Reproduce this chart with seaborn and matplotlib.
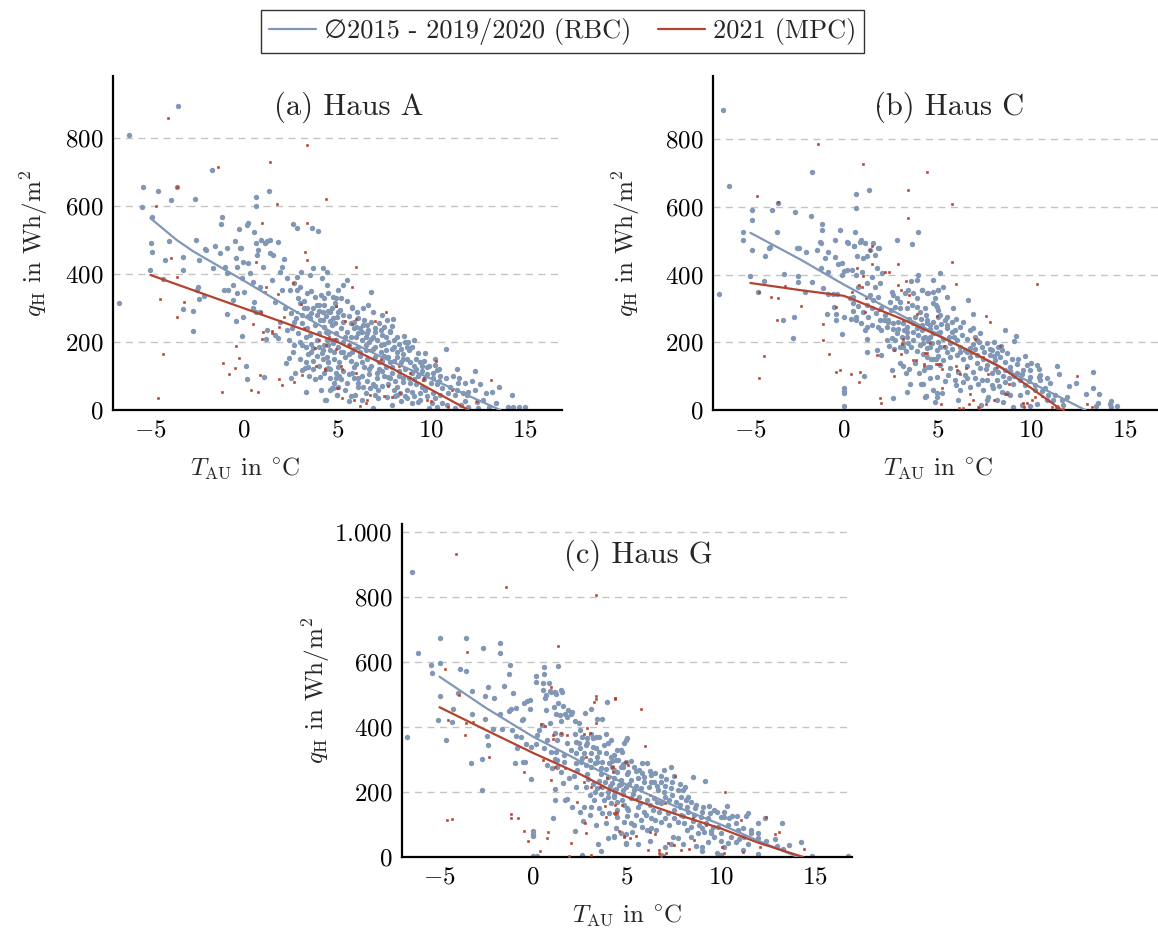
import matplotlib
matplotlib.use("Agg")
import matplotlib.pyplot as plt
from matplotlib.lines import Line2D
import seaborn as sns
import pandas as pd

# Daily mean outside temperature T_AU (°C) vs. specific heating demand q_H (Wh/m²)
# RBC: mean of the heating periods 2015 - 2019/2020, MPC: heating period 2021

haus_a_rbc = [
    (-6.15, 809), (-3.55, 894), (-5.42, 655), (-4.62, 645), (-3.58, 655), (-5.44, 596), (-3.89, 616),
    (-2.64, 621), (-1.73, 706), (1.34, 645), (0.62, 625), (0.62, 601), (-4.92, 566), (-1.19, 566),
    (-1.21, 546), (0.2, 551), (0.15, 545), (-0.25, 531), (0.53, 522), (2.64, 546), (2.83, 536),
    (3.65, 536), (3.94, 525), (-4.97, 491), (-3.99, 496), (-2.57, 501), (-2.07, 473), (-1.55, 482),
    (-0.89, 477), (-0.48, 496), (-0.14, 477), (0.66, 491), (0.93, 501), (1.1, 491), (1.25, 496),
    (1.4, 501), (-4.94, 466), (-4.22, 441), (-3.25, 451), (-2.39, 441), (-5.03, 412), (-3.25, 412),
    (-4.31, 385), (-6.7, 314), (-3.28, 297), (-2.71, 292), (-2.73, 233), (-2.48, 363), (-2.49, 353),
    (-2.41, 326), (-2.12, 336), (-1.66, 417), (-2.05, 471), (-1.28, 461), (-1.02, 421), (-0.91, 402),
    (-1.05, 353), (-0.87, 353), (-0.57, 368), (-0.39, 343), (-0.6, 322), (-0.93, 282), (-0.44, 263),
    (-0.21, 475), (-0.43, 446), (-0.36, 421), (-0.04, 436), (0.2, 431), (-0.12, 387), (0.02, 348),
    (0.32, 402), (0.5, 377), (-0.04, 273), (-0.11, 219), (0.09, 129), (0.18, 90), (0.53, 317),
    (0.5, 299), (0.62, 289), (0.86, 289), (0.68, 456), (0.77, 471), (1.03, 421), (0.86, 363),
    (1.48, 382), (1.39, 461), (1.57, 456), (1.84, 495), (2.01, 421), (1.93, 407), (2.16, 443),
    (1.66, 319), (2.01, 353), (2.28, 387), (2.46, 353), (1.21, 235), (1.16, 208), (1.66, 221),
    (1.82, 211), (1.93, 260), (2.28, 235), (2.55, 240), (2.41, 152), (2.25, 139), (1.09, 98),
    (2.51, 95), (2.73, 108), (3.3, 54), (3.09, 118), (3.24, 123), (3.44, 127), (3.67, 120),
    (4.06, 98), (4.47, 123), (4.37, 29), (4.72, 64), (4.99, 44), (2.67, 373), (2.82, 392),
    (3.05, 407), (3.53, 397), (3.71, 417), (4.15, 387), (4.42, 407), (2.82, 353), (3.0, 363),
    (3.35, 343), (3.8, 333), (4.1, 338), (2.99, 314), (3.35, 299), (3.88, 309), (4.24, 289),
    (3.53, 270), (4.06, 265), (4.6, 289), (4.78, 333), (4.87, 255), (4.96, 274), (3.35, 240),
    (3.53, 221), (3.88, 206), (4.42, 206), (3.71, 181), (4.15, 167), (4.42, 157), (4.78, 196),
    (5.0, 289), (5.2, 170), (2.9, 330), (3.2, 320), (3.6, 350), (4.0, 310), (4.3, 330), (3.1, 280),
    (3.6, 285), (4.0, 290), (2.7, 260), (3.1, 255), (3.8, 250), (4.3, 245), (2.9, 225), (3.3, 215),
    (4.0, 225), (4.5, 225), (3.1, 190), (3.6, 195), (4.0, 185), (4.8, 170), (3.4, 165), (4.5, 140),
    (4.21, 417), (4.45, 368), (5.49, 382), (5.28, 368), (5.05, 353), (6.78, 348), (4.92, 328),
    (4.87, 314), (5.13, 294), (5.76, 304), (6.03, 289), (6.38, 299), (6.65, 309), (6.92, 289),
    (7.36, 279), (7.98, 268), (7.63, 265), (4.78, 270), (5.31, 260), (5.9, 260), (4.6, 263),
    (6.38, 250), (6.65, 235), (7.9, 247), (7.81, 233), (8.16, 216), (8.57, 218), (8.79, 201),
    (9.09, 206), (10.8, 178), (9.32, 167), (9.68, 169), (10.21, 132), (10.34, 118), (11.37, 120),
    (12.35, 115), (13.64, 69), (13.28, 54), (12.92, 49), (14.31, 44), (14.1, 8), (14.4, 10),
    (14.7, 10), (15.0, 8), (12.35, 59), (12.0, 54), (11.9, 44), (12.44, 24), (13.46, 20),
    (11.46, 78), (11.02, 69), (11.28, 44), (10.84, 15), (11.3, 5), (11.6, 15), (10.21, 34),
    (10.04, 20), (9.77, 41), (9.41, 49), (9.32, 24), (9.0, 20), (8.7, 34), (8.34, 49), (8.1, 40),
    (7.63, 39), (7.18, 34), (6.88, 5), (5.94, 44), (5.7, 40), (4.96, 44), (4.33, 29), (5.05, 69),
    (4.74, 64), (6.11, 69), (6.38, 69), (6.74, 64), (7.18, 59), (7.7, 98), (8.2, 69), (8.5, 83),
    (9.0, 54), (9.5, 69), (10.4, 84),
    (4.3, 310), (4.5, 290), (4.7, 250), (4.4, 230), (4.9, 225), (5.2, 240), (5.5, 230), (5.7, 215),
    (4.3, 190), (4.6, 175), (5.0, 185), (5.3, 200), (5.6, 190), (5.8, 170), (4.2, 150), (4.5, 140),
    (4.8, 150), (5.1, 140), (5.4, 155), (5.7, 145), (4.4, 120), (4.9, 110), (5.3, 115), (5.6, 105),
    (5.9, 125), (4.6, 95), (5.2, 90), (5.5, 80), (5.9, 95), (4.8, 80), (5.4, 60), (5.8, 300),
    (5.5, 320), (5.2, 330), (4.5, 345), (5.6, 275), (5.3, 280), (4.9, 205), (5.9, 240),
    (6.1, 270), (6.4, 265), (6.8, 260), (7.2, 255), (7.5, 245), (6.2, 240), (6.6, 225), (7.0, 230),
    (7.4, 220), (6.0, 215), (6.3, 205), (6.7, 200), (7.1, 205), (7.5, 195), (6.1, 185), (6.5, 175),
    (6.9, 180), (7.3, 170), (7.6, 175), (6.2, 160), (6.6, 150), (7.0, 155), (7.4, 145), (6.0, 135),
    (6.4, 125), (6.8, 130), (7.2, 120), (7.6, 125), (6.3, 100), (6.7, 105), (7.1, 95), (7.5, 100),
    (6.1, 80), (6.9, 75), (7.4, 70), (6.5, 50), (7.0, 45),
    (7.8, 230), (8.0, 205), (8.3, 195), (8.6, 200), (9.0, 185), (7.9, 180), (8.2, 170), (8.5, 165),
    (8.8, 175), (9.2, 150), (7.7, 155), (8.0, 145), (8.4, 140), (8.7, 150), (9.1, 130), (9.4, 140),
    (7.9, 125), (8.3, 115), (8.6, 120), (9.0, 110), (9.3, 100), (7.8, 95), (8.1, 85), (8.5, 95),
    (8.9, 80), (9.2, 75), (8.0, 60), (8.7, 60), (9.1, 40), (8.4, 25), (7.9, 15),
    (9.6, 145), (9.9, 130), (10.2, 150), (9.5, 115), (9.8, 105), (10.1, 110), (10.5, 100),
    (10.8, 95), (9.6, 90), (10.0, 80), (10.3, 75), (10.6, 65), (9.7, 60), (10.1, 50), (10.5, 45),
    (10.9, 50), (10.6, 20), (10.3, 10), (9.9, 5), (11.2, 100), (11.5, 95), (11.8, 80), (12.2, 85),
    (11.4, 60), (11.7, 50), (12.6, 75), (12.8, 30), (13.1, 10), (12.5, 5), (12.0, 10), (11.8, 25),
    (2.2, 300), (2.5, 285), (2.8, 270), (3.2, 300), (3.4, 275), (3.7, 300), (3.9, 280), (4.2, 265),
    (4.4, 275), (4.7, 300), (2.4, 205), (2.7, 190), (3.0, 200), (3.3, 185), (3.6, 170), (3.9, 160),
    (4.2, 175), (4.5, 190), (4.7, 205), (2.6, 170), (3.0, 150), (3.3, 140), (3.7, 145), (4.0, 130),
    (4.3, 110), (4.6, 120), (5.0, 125), (5.3, 170), (5.6, 165), (5.9, 180), (6.2, 170), (6.5, 190),
    (6.8, 210), (7.0, 185), (7.3, 190), (7.7, 200), (8.0, 185), (8.4, 180), (8.7, 185), (6.0, 245),
    (6.3, 230), (6.6, 250), (7.0, 240), (7.3, 235), (7.6, 215), (5.4, 215), (5.7, 255), (6.1, 225),
    (6.5, 215), (6.9, 215), (7.2, 140), (7.5, 160), (7.8, 140), (8.2, 155), (8.5, 150), (8.9, 140),
    (9.2, 120), (9.5, 130), (9.8, 125), (10.1, 95), (10.4, 120), (6.3, 140), (6.7, 120), (7.1, 110),
    (7.4, 115), (7.9, 110), (8.3, 100), (8.8, 95), (9.1, 90), (5.8, 110), (6.1, 95), (6.6, 85),
    (7.0, 70), (7.7, 75), (8.2, 45), (8.6, 40), (9.4, 30), (5.1, 100), (4.9, 95), (4.6, 60),
    (5.6, 25), (6.3, 30), (3.8, 90), (4.1, 60), (3.5, 100),
]
haus_a_mpc = [
    (-4.08, 858), (-3.58, 655), (-4.69, 600), (-1.41, 714), (1.37, 729), (3.39, 778), (1.76, 605),
    (4.4, 621), (0.98, 551), (3.39, 551), (-3.9, 446), (-3.6, 392), (-4.49, 326), (-3.19, 317),
    (-3.56, 273), (-4.31, 164), (-4.58, 34), (-0.44, 188), (-0.25, 154), (-1.14, 139), (-0.46, 124),
    (-0.82, 105), (-1.16, 54), (0.36, 59), (0.77, 54), (0.46, 253), (0.9, 289), (0.62, 436),
    (1.16, 363), (1.1, 346), (1.84, 340), (1.0, 229), (0.94, 208), (1.48, 233), (1.5, 225),
    (1.87, 243), (2.16, 273), (0.86, 103), (1.89, 90), (2.01, 74), (2.67, 83), (3.12, 103),
    (3.85, 129), (4.35, 118), (4.99, 64), (3.24, 466), (3.39, 441), (2.6, 373), (3.05, 312),
    (2.85, 289), (4.94, 306), (3.2, 240), (4.0, 206), (3.8, 183), (4.55, 216), (4.9, 180),
    (5.99, 421), (5.76, 363), (4.92, 307), (7.58, 287), (5.97, 268), (7.01, 263), (5.4, 262),
    (5.79, 253), (10.27, 144), (13.21, 88), (12.44, 27), (11.1, 60), (10.9, 10), (10.0, 25),
    (9.77, 30), (8.34, 49), (7.9, 37), (7.5, 40), (6.74, 44), (6.5, 20), (6.56, 29), (6.2, 12),
    (5.9, 29), (5.22, 34), (5.05, 66), (7.72, 71), (9.59, 88), (6.7, 176), (7.3, 150), (8.3, 130),
    (8.9, 110), (9.6, 95), (5.6, 190), (5.2, 130), (6.0, 110), (4.33, 120), (4.38, 190), (4.88, 210),
    (5.22, 122),
]
haus_a_rbc_fit = [(-5.0, 564), (-3.6, 500), (-2.7, 466), (0.0, 380), (2.5, 298), (5.1, 216),
                  (7.5, 152), (10.0, 92), (12.0, 42), (13.7, 0)]
haus_a_mpc_fit = [(-5.0, 397), (-2.5, 348), (0.0, 299), (2.5, 250), (5.0, 200), (6.5, 160),
                  (8.0, 120), (10.0, 60), (12.0, 0)]

haus_c_rbc = [
    (-6.45, 885), (-6.13, 661), (-1.71, 702), (-4.92, 590), (-3.87, 590), (-2.62, 584), (-1.75, 572),
    (0.64, 637), (1.35, 650), (0.64, 596), (-4.9, 560), (-1.19, 549), (-1.18, 531), (-5.39, 525),
    (-3.57, 525), (-0.23, 531), (0.57, 525), (3.96, 525), (-5.42, 501), (-1.27, 495), (-0.47, 501),
    (0.18, 495), (0.53, 484), (0.91, 501), (1.84, 478), (2.85, 501), (3.65, 490), (-2.5, 478),
    (-2.38, 478), (-3.99, 478), (-3.53, 610),
    (-4.94, 471), (-4.21, 455), (-3.96, 482), (-5.03, 396), (-3.21, 401), (-6.68, 343), (-4.58, 348),
    (-4.3, 382), (-3.24, 266), (-2.69, 276), (-2.71, 213), (-2.03, 466), (-1.46, 473), (-1.23, 494),
    (-0.87, 466), (-1.02, 448), (-1.23, 419), (-0.84, 407), (-0.48, 453), (-0.34, 430), (-0.12, 435),
    (0.2, 494), (0.55, 484), (0.68, 455), (1.03, 448), (1.21, 455), (0.85, 497), (1.15, 494),
    (1.57, 492), (1.39, 473), (1.66, 458), (1.87, 479), (-0.02, 411), (-0.12, 399), (0.15, 414),
    (0.43, 414), (0.62, 399), (0.98, 407), (1.48, 394), (1.75, 419), (2.01, 404), (-1.73, 377),
    (-2.44, 379), (-2.46, 395), (-2.09, 348), (-1.1, 359), (-0.84, 343), (-0.6, 343), (-0.39, 343),
    (-0.52, 305), (-0.45, 283), (-0.91, 284), (-0.45, 266), (-0.02, 276), (-0.11, 225), (0.0, 64),
    (0.0, 49), (0.0, 57), (0.0, 13), (1.09, 100), (0.5, 335), (0.77, 364), (1.21, 374), (1.66, 364),
    (1.93, 374), (1.4, 340), (1.8, 335), (1.55, 325), (0.3, 330), (0.5, 315), (0.77, 308),
    (1.21, 310), (1.48, 300), (0.5, 292), (0.64, 275), (0.38, 270), (0.62, 266), (0.9, 256),
    (1.21, 246), (1.12, 236), (1.5, 251), (1.84, 244), (1.93, 266), (2.16, 266), (2.38, 261),
    (1.21, 210), (1.21, 172), (1.75, 177), (1.98, 162), (2.28, 207), (2.55, 214), (2.73, 207),
    (3.0, 187), (3.17, 197), (3.35, 216), (2.55, 118), (2.64, 34), (3.32, 108), (3.14, 130),
    (3.53, 77), (3.35, 54), (4.12, 77), (4.39, 41), (4.99, 49), (4.3, 118), (4.47, 128), (4.9, 152),
    (4.66, 152),
    (2.55, 349), (2.64, 340), (2.82, 330), (3.0, 320), (3.26, 344), (3.44, 354), (3.71, 344),
    (3.89, 330), (4.15, 354), (4.51, 344), (4.78, 349), (5.04, 354), (2.46, 320), (2.73, 305),
    (3.0, 300), (3.35, 300), (3.62, 310), (3.89, 305), (4.06, 290), (4.33, 300), (4.78, 315),
    (4.96, 305), (2.37, 266), (2.64, 256), (2.91, 261), (3.17, 256), (3.35, 246), (3.71, 256),
    (3.89, 241), (4.15, 251), (4.42, 256), (4.78, 261), (5.04, 276), (2.82, 226), (3.08, 216),
    (3.35, 231), (3.71, 231), (3.98, 221), (4.24, 212), (4.6, 216), (4.78, 226), (5.04, 226),
    (3.17, 187), (3.44, 197), (3.71, 207), (4.06, 192), (4.42, 182), (4.69, 197), (5.13, 187),
    (3.89, 384), (3.56, 381), (3.98, 399), (4.78, 384), (5.13, 404),
    (4.15, 354), (4.42, 344), (4.86, 330), (5.04, 354), (5.31, 364), (5.49, 335), (4.92, 310),
    (5.04, 295), (5.13, 280), (5.4, 266), (5.52, 275), (5.84, 300), (4.42, 266), (4.6, 251),
    (4.15, 236), (4.33, 216), (4.77, 226), (5.13, 231), (5.49, 241), (5.75, 231), (5.93, 236),
    (6.2, 246), (6.38, 261), (6.73, 236), (6.91, 241), (7.0, 216), (7.27, 226), (4.24, 197),
    (4.6, 187), (4.95, 177), (5.4, 187), (5.66, 197), (6.02, 207), (6.2, 187), (6.47, 177),
    (6.73, 182), (7.09, 207), (7.36, 187), (7.63, 197), (7.89, 177), (8.16, 167), (4.42, 157),
    (4.77, 152), (5.31, 147), (5.66, 157), (6.02, 162), (6.38, 152), (6.73, 157), (7.09, 162),
    (7.45, 152), (7.8, 162), (8.07, 147), (8.34, 157), (8.61, 142), (8.96, 152), (9.23, 137),
    (4.6, 128), (5.13, 133), (5.66, 123), (6.11, 113), (6.47, 103), (6.91, 113), (7.27, 123),
    (7.63, 133), (7.89, 108), (8.25, 113), (8.61, 118), (8.87, 128), (9.23, 108), (9.59, 118),
    (9.77, 133), (4.95, 98), (5.58, 103), (5.93, 88), (6.38, 83), (6.73, 69), (7.18, 78),
    (7.63, 88), (8.16, 88), (8.61, 83), (9.05, 78), (9.41, 88), (9.94, 98), (10.48, 103),
    (10.84, 93), (4.24, 78), (5.22, 49), (6.2, 59), (7.45, 59), (7.98, 64), (8.43, 54), (8.87, 44),
    (9.77, 54), (10.21, 59), (10.75, 64), (4.33, 39), (7.72, 39), (9.5, 14), (9.94, 11),
    (10.3, 19), (10.84, 29), (11.37, 9), (11.73, 14),
    (6.61, 325), (6.92, 284), (8.59, 236), (9.2, 218), (9.1, 205), (8.0, 202), (8.25, 187),
    (8.43, 177), (8.7, 167), (11.41, 130), (11.5, 105), (13.3, 111), (12.39, 81), (12.03, 71),
    (12.94, 47), (13.65, 47), (13.3, 64), (14.3, 28), (14.2, 17), (14.6, 11), (14.3, 9),
    (13.48, 13), (13.6, 20), (11.9, 39), (11.63, 29), (11.28, 44), (11.02, 79), (10.5, 88),
    (10.3, 133), (10.4, 98), (9.94, 118), (9.68, 74), (9.41, 44), (9.05, 9), (8.74, 49),
    (8.16, 29), (7.63, 29), (6.1, 29), (4.86, 24), (4.75, 59), (4.36, 42), (4.95, 39),
    (1.0, 290), (1.3, 275), (1.7, 285), (2.0, 300), (2.2, 280), (2.5, 295), (2.0, 235), (2.3, 245),
    (2.6, 240), (2.9, 240), (3.2, 235), (3.5, 270), (3.8, 275), (4.1, 270), (4.4, 280), (4.6, 240),
    (4.9, 245), (5.2, 255), (5.5, 250), (5.8, 260), (6.0, 270), (2.4, 190), (2.7, 180), (3.3, 175),
    (3.6, 185), (3.9, 175), (4.2, 165), (4.5, 205), (5.0, 200), (5.3, 210), (5.6, 215), (5.9, 215),
    (6.3, 220), (6.6, 210), (6.9, 195), (7.2, 200), (5.0, 160), (5.5, 170), (5.8, 180), (6.2, 170),
    (6.6, 170), (7.0, 180), (7.5, 170), (7.8, 180), (8.0, 160), (8.4, 190), (3.0, 140), (3.5, 120),
    (3.8, 140), (4.0, 110), (4.6, 95), (5.4, 85), (6.0, 75), (6.6, 95), (7.0, 95), (7.4, 90),
    (7.9, 75), (8.3, 70), (8.8, 95), (9.1, 100), (9.5, 105), (9.9, 85), (10.2, 75), (10.6, 55),
    (10.9, 45), (11.2, 30), (8.5, 25), (7.3, 15), (6.6, 130), (7.1, 140), (7.6, 120), (8.1, 120),
    (8.5, 100), (8.9, 115), (9.3, 150), (9.7, 160), (10.0, 140), (10.4, 120),
]
haus_c_mpc = [
    (-1.39, 785), (1.0, 726), (1.8, 898), (4.42, 702), (5.79, 608), (-4.67, 631), (-3.53, 614),
    (3.4, 650), (3.4, 566), (1.5, 484), (-3.9, 335), (-3.55, 330), (-3.16, 366), (-3.58, 266),
    (-2.3, 306), (-4.28, 160), (-4.56, 95), (-4.55, 348), (1.39, 471), (1.51, 430), (0.68, 419),
    (1.0, 396), (2.17, 407), (2.43, 407), (2.91, 430), (-0.45, 111), (-0.21, 118), (0.37, 105),
    (0.78, 82), (0.87, 111), (-0.78, 164), (-1.14, 207), (-1.14, 254), (-0.43, 305), (0.45, 348),
    (0.79, 370), (0.95, 364), (1.16, 330), (1.87, 295), (1.12, 288), (1.75, 162), (2.69, 100),
    (1.93, 34), (2.0, 22), (3.7, 148), (3.85, 148), (4.28, 130), (5.03, 136), (5.13, 136),
    (3.05, 164), (2.69, 177), (3.17, 210), (3.1, 195), (2.9, 369), (3.05, 354), (3.3, 381),
    (3.17, 266), (3.92, 284), (4.6, 197), (4.35, 167), (3.5, 340), (3.4, 320),
    (5.79, 436), (5.99, 372), (10.3, 371), (7.59, 277), (7.83, 260), (8.34, 189), (12.48, 100),
    (12.97, 17), (13.25, 9), (8.72, 47), (8.6, 46), (8.0, 29), (7.59, 17), (7.18, 9), (7.24, 7),
    (6.73, 47), (6.7, 17), (6.91, 29), (6.38, 5), (6.16, 5), (5.22, 66), (5.2, 17), (4.45, 167),
    (4.3, 135), (4.9, 135), (5.22, 120), (6.02, 118), (6.2, 106), (6.55, 123), (6.0, 130),
    (6.8, 167), (7.0, 210), (5.35, 189), (4.95, 277), (7.45, 157), (7.7, 106), (8.2, 128),
    (8.83, 77), (9.55, 22), (9.8, 22), (9.6, 9), (10.03, 29), (10.21, 39), (10.57, 41), (11.1, 9),
    (11.37, 5), (11.69, 2),
]
haus_c_rbc_fit = [(-5.0, 523), (-2.35, 445), (0.0, 370), (2.5, 296), (5.13, 219), (7.5, 150),
                  (10.0, 81), (12.9, 0)]
haus_c_mpc_fit = [(-5.0, 375), (-2.35, 354), (0.0, 337), (3.0, 271), (5.13, 217), (6.8, 172),
                  (8.34, 128), (10.0, 65), (11.64, 0)]

haus_g_rbc = [
    (-6.49, 876), (-4.96, 673), (-3.57, 673), (-6.17, 628), (-2.68, 642), (-1.75, 659), (-1.8, 628),
    (-5.46, 592), (-4.96, 597), (-3.91, 580), (-3.61, 571), (-5.42, 567), (-1.23, 592), (-1.3, 562),
    (0.59, 584), (0.59, 562), (1.3, 589), (0.16, 558), (0.14, 540), (0.54, 535), (0.86, 535),
    (0.5, 513), (0.9, 510), (1.15, 508), (1.47, 513), (-2.42, 523), (-1.57, 527), (-3.28, 510),
    (-4.02, 506), (-4.99, 497), (-2.6, 497), (-2.1, 488), (-1.07, 506), (-0.18, 483), (0.64, 488),
    (-4.33, 416), (-4.26, 455), (-5.08, 422), (-3.26, 439), (-2.55, 426), (-1.75, 439), (-2.14, 394),
    (-1.66, 394), (-2.46, 373), (-2.42, 346), (-4.65, 360), (-6.74, 368), (-3.3, 290), (-2.73, 302),
    (-2.76, 206), (-1.27, 449), (-1.18, 457), (-0.93, 460), (-0.5, 475), (-0.32, 481), (-0.18, 457),
    (-0.53, 424), (-0.6, 422), (-1.16, 391), (-0.91, 372), (-0.68, 370), (-0.41, 349), (-0.89, 334),
    (-0.53, 293), (-0.44, 293), (-0.98, 290), (-0.14, 240), (0.0, 81), (0.0, 72), (0.0, 64),
    (0.0, 4), (0.18, 4), (1.05, 121), (-0.14, 339), (0.12, 347), (0.3, 391), (0.21, 377),
    (0.45, 406), (0.66, 498), (0.93, 509), (1.19, 503), (1.51, 509), (0.66, 452), (1.1, 462),
    (1.33, 473), (1.6, 466), (1.43, 437), (1.68, 440), (1.82, 432), (2.0, 440), (2.08, 447),
    (1.87, 452), (0.89, 411), (1.18, 382), (0.75, 360), (1.28, 360), (1.46, 380), (0.57, 334),
    (0.93, 324), (1.23, 324), (1.14, 303), (1.28, 298), (1.64, 314), (0.73, 283), (1.0, 273),
    (1.28, 278), (1.46, 263), (1.64, 293), (1.6, 228), (1.9, 242), (2.17, 250), (2.26, 214),
    (1.14, 210), (1.14, 175), (1.67, 175), (1.82, 180), (2.08, 155), (2.73, 153), (2.66, 112),
    (3.44, 39), (2.62, 6),
    (2.76, 442), (3.07, 457), (3.42, 424), (3.64, 424), (3.92, 478), (2.44, 411), (2.62, 370),
    (2.89, 365), (3.07, 380), (3.16, 365), (3.33, 370), (3.51, 370), (3.87, 380), (2.26, 355),
    (2.44, 350), (2.8, 344), (2.89, 350), (3.16, 339), (3.33, 334), (3.51, 324), (3.78, 344),
    (3.96, 350), (4.13, 360), (2.71, 319), (3.07, 319), (3.42, 308), (3.87, 319), (4.31, 314),
    (4.67, 329), (2.26, 288), (2.53, 293), (2.8, 283), (3.07, 278), (3.42, 293), (3.69, 293),
    (4.04, 288), (4.22, 278), (4.49, 262), (4.76, 278), (4.94, 293), (2.35, 268), (2.89, 257),
    (3.6, 257), (3.96, 247), (4.31, 242), (4.67, 237), (5.03, 262), (2.8, 216), (3.42, 211),
    (3.69, 216), (3.96, 201), (4.31, 206), (4.76, 206), (3.07, 155), (3.24, 175), (3.78, 175),
    (4.13, 165), (4.49, 170), (4.85, 160), (5.03, 144), (3.33, 98), (3.69, 134), (4.04, 134),
    (4.49, 124), (4.85, 108), (4.31, 64), (4.67, 75), (4.96, 42), (4.94, 72),
    (4.13, 309), (4.49, 329), (4.4, 299), (4.75, 324), (4.93, 360), (4.84, 350), (5.02, 365),
    (4.31, 268), (4.66, 278), (5.02, 257), (5.38, 278), (5.65, 268), (5.82, 290), (6.09, 290),
    (5.2, 237), (5.56, 242), (5.91, 247), (6.27, 252), (6.45, 232), (6.8, 232), (6.98, 268),
    (7.34, 276), (7.52, 249), (4.22, 227), (4.58, 222), (4.93, 216), (5.38, 206), (5.73, 211),
    (6.18, 216), (6.63, 206), (6.98, 201), (7.34, 211), (7.7, 206), (7.96, 206), (8.23, 186),
    (8.5, 245), (9.16, 233), (4.31, 186), (4.75, 175), (5.2, 181), (5.65, 186), (6.09, 175),
    (6.45, 181), (6.8, 165), (7.25, 175), (7.61, 170), (7.87, 186), (8.14, 175), (8.41, 170),
    (8.68, 160), (9.03, 155), (9.39, 157), (4.49, 145), (5.02, 150), (5.56, 155), (5.91, 139),
    (6.36, 145), (6.72, 139), (7.16, 134), (7.52, 145), (7.87, 129), (8.23, 139), (8.59, 129),
    (8.94, 124), (9.3, 119), (9.66, 145), (10.33, 157), (5.2, 104), (5.73, 114), (6.27, 119),
    (6.8, 109), (7.25, 98), (7.7, 109), (8.05, 104), (8.41, 93), (8.86, 98), (9.21, 104),
    (9.57, 93), (9.84, 93), (10.19, 122), (10.46, 119), (10.01, 124), (10.87, 126), (11.35, 126),
    (11.44, 136), (12.37, 119), (13.26, 104), (4.31, 63), (4.97, 40), (5.29, 78), (5.38, 98),
    (5.82, 93), (6.09, 83), (6.54, 83), (6.27, 88), (7.43, 63), (7.7, 57), (7.34, 40), (8.2, 83),
    (8.41, 63), (8.8, 73), (8.68, 34), (8.98, 18), (9.3, 47), (9.12, 78), (9.48, 73), (9.66, 63),
    (10.19, 32), (10.41, 44), (10.82, 47), (11.48, 40), (11.17, 22), (11.98, 73), (11.98, 8),
    (12.87, 55), (13.62, 36), (14.29, 46), (14.86, 3), (16.79, 3), (6.8, 6), (6.9, 4), (9.8, 11),
    (10.01, 6), (10.55, 63), (11.26, 63), (11.62, 83), (11.98, 104), (10.91, 83),
    (1.2, 440), (1.5, 420), (2.2, 420), (2.5, 390), (2.2, 380), (1.8, 350), (2.0, 330), (2.3, 320),
    (2.5, 335), (2.6, 305), (3.0, 300), (3.3, 290), (3.6, 275), (3.9, 270), (4.2, 295), (4.5, 300),
    (4.8, 285), (5.2, 295), (5.5, 265), (5.8, 260), (6.2, 265), (6.5, 260), (6.8, 250), (7.1, 240),
    (2.9, 240), (3.2, 225), (3.5, 235), (3.8, 230), (4.1, 220), (4.4, 210), (4.7, 225), (5.1, 225),
    (5.5, 220), (5.9, 230), (6.3, 230), (6.6, 220), (7.0, 220), (7.4, 230), (7.8, 225), (8.1, 215),
    (3.0, 190), (3.3, 200), (3.6, 195), (4.0, 185), (4.3, 190), (4.8, 195), (5.3, 195), (5.7, 165),
    (6.2, 160), (6.6, 170), (7.0, 185), (7.4, 190), (7.8, 160), (8.2, 155), (8.6, 150), (9.0, 140),
    (9.4, 135), (9.8, 140), (10.2, 140), (10.6, 125), (2.5, 140), (3.0, 130), (3.5, 150), (3.9, 105),
    (4.4, 90), (5.0, 125), (5.5, 130), (6.0, 130), (6.5, 115), (7.0, 120), (7.5, 120), (8.0, 125),
    (8.5, 110), (9.0, 90), (9.5, 80), (10.0, 75), (10.4, 100), (10.8, 105), (11.2, 90), (11.6, 75),
    (12.0, 60), (12.4, 50), (13.0, 35), (13.3, 25), (6.2, 50), (7.0, 30), (8.0, 40), (9.0, 30),
    (10.0, 50), (11.0, 55), (5.6, 40), (4.0, 60), (3.6, 20), (2.2, 80),
]
haus_g_mpc = [
    (-4.12, 932), (-1.45, 832), (3.35, 805), (-3.55, 632), (1.32, 650), (-4.71, 580), (0.96, 523),
    (-3.96, 500), (3.35, 486), (4.35, 486), (-4.53, 422), (-3.57, 411), (-3.21, 416), (-3.64, 377),
    (-2.34, 307), (-4.6, 114), (-4.33, 117), (-0.48, 263), (-1.21, 131), (-1.21, 121), (-0.84, 121),
    (-0.5, 81), (-0.27, 50), (0.34, 19), (0.73, 60), (0.8, 77), (0.93, 237), (0.42, 408),
    (0.62, 402), (1.07, 377), (1.07, 362), (1.46, 382), (1.8, 377), (0.5, 299), (1.14, 278),
    (1.7, 275), (2.35, 170), (2.78, 106), (2.8, 75), (2.0, 42), (1.89, 4), (3.06, 6), (3.33, 496),
    (3.24, 476), (4.34, 488), (3.35, 411), (2.87, 398), (2.71, 380), (3.03, 382), (2.8, 307),
    (4.24, 276), (4.91, 293), (5.03, 283), (2.71, 232), (3.1, 214), (3.91, 242), (4.27, 262),
    (3.56, 214), (3.8, 157), (4.34, 160), (4.74, 160), (3.87, 124), (4.34, 131), (4.46, 134),
    (4.58, 81), (4.83, 66),
    (4.38, 488), (5.73, 456), (5.95, 341), (10.25, 200), (4.97, 292), (4.2, 276), (7.56, 249),
    (11.1, 113), (12.44, 122), (12.9, 70), (13.13, 78), (14.42, 25), (12.07, 31), (11.17, 16),
    (10.07, 30), (10.19, 11), (8.59, 52), (7.9, 22), (8.32, 24), (7.52, 37), (7.07, 11),
    (7.16, 42), (6.72, 23), (6.72, 11), (6.8, 0), (6.22, 76), (6.5, 71), (6.13, 22), (5.47, 66),
    (5.15, 57), (4.84, 63), (4.31, 135), (4.4, 137), (5.5, 180), (6.2, 190), (7.0, 165),
    (7.8, 150), (8.5, 120), (9.2, 100),
]
haus_g_rbc_fit = [(-5.0, 555), (-2.5, 458), (0.0, 370), (2.5, 295), (5.0, 222), (7.5, 158),
                  (10.0, 100), (12.0, 50), (14.1, 0)]
haus_g_mpc_fit = [(-5.0, 461), (-2.5, 390), (0.0, 320), (2.5, 255), (4.13, 206), (5.2, 180),
                  (7.5, 134), (10.0, 88), (12.0, 44), (14.4, 0)]

panel_titles = ["(a) Haus A", "(b) Haus C", "(c) Haus G"]
series_labels = ["\u2205" + "2015 - 2019/2020 (RBC)", "2021 (MPC)"]
x_ticks = [-5, 0, 5, 10, 15]
x_tick_labels = ["$-5$", "$0$", "$5$", "$10$", "$15$"]
y_ticks_ac = [0, 200, 400, 600, 800]
y_tick_labels_ac = ["$0$", "$200$", "$400$", "$600$", "$800$"]
y_ticks_g = [0, 200, 400, 600, 800, 1000]
y_tick_labels_g = ["$0$", "$200$", "$400$", "$600$", "$800$", "$1.000$"]

RBC_COLOR = "#8197b6"
MPC_COLOR = "#b3432f"

sns.set_theme(style="white")
plt.rcParams["font.family"] = ["cmr10", "DejaVu Serif", "DejaVu Sans"]
plt.rcParams["mathtext.fontset"] = "cm"
plt.rcParams["axes.unicode_minus"] = False
plt.rcParams["axes.formatter.use_mathtext"] = True

FS = 18

fig = plt.figure(figsize=(11.58, 9.34), dpi=100)


def to_frame(points):
    return pd.DataFrame(points, columns=["T", "q"])


def draw_panel(rect, rbc, mpc, rbc_fit, mpc_fit, title, ylim, yticks, yticklabels,
               xlabel_x, ylabel_x):
    ax = fig.add_axes(rect)
    ax.set_axisbelow(True)
    for yv in yticks[1:]:
        ax.axhline(yv, color="#c4c4c4", lw=1.0, ls=(0, (5, 4)), zorder=0)

    sns.scatterplot(data=to_frame(rbc), x="T", y="q", ax=ax, color=RBC_COLOR, s=15,
                    linewidth=0, marker="o", legend=False, zorder=2)
    sns.scatterplot(data=to_frame(mpc), x="T", y="q", ax=ax, color=MPC_COLOR, s=4,
                    linewidth=0.4, edgecolor=MPC_COLOR, marker="s", legend=False, zorder=3)
    sns.lineplot(data=to_frame(rbc_fit), x="T", y="q", ax=ax, color=RBC_COLOR, lw=1.6,
                 sort=False, estimator=None, legend=False, zorder=4)
    sns.lineplot(data=to_frame(mpc_fit), x="T", y="q", ax=ax, color=MPC_COLOR, lw=1.6,
                 sort=False, estimator=None, legend=False, zorder=5)

    ax.set_xlim(-7, 17)
    ax.set_ylim(*ylim)
    ax.set_xticks(x_ticks)
    ax.set_xticklabels(x_tick_labels, fontsize=FS)
    ax.set_yticks(yticks)
    ax.set_yticklabels(yticklabels, fontsize=FS)
    ax.tick_params(axis="both", direction="in", length=6, width=1.0, color="#9a9a9a",
                   pad=7, labelcolor="black")

    for side in ("top", "right"):
        ax.spines[side].set_visible(False)
    for side in ("left", "bottom"):
        ax.spines[side].set_color("black")
        ax.spines[side].set_linewidth(1.6)

    ax.set_xlabel(r"$T_\mathrm{AU}$ in $^{\circ}$C", fontsize=FS)
    ax.set_ylabel(r"$q_\mathrm{H}$ in Wh/m$^2$", fontsize=FS)
    ax.xaxis.set_label_coords(xlabel_x, -0.135)
    ax.yaxis.set_label_coords(ylabel_x, 0.5)

    ax.text(0.525, 0.905, title, transform=ax.transAxes, ha="center", va="center",
            fontsize=22, zorder=6)
    return ax


W, H = 1158.0, 934.0
draw_panel([113 / W, 1 - 410 / H, 449 / W, 334 / H], haus_a_rbc, haus_a_mpc,
           haus_a_rbc_fit, haus_a_mpc_fit, panel_titles[0], (0, 982), y_ticks_ac, y_tick_labels_ac,
           0.294, -0.14)
draw_panel([713 / W, 1 - 410 / H, 449 / W, 334 / H], haus_c_rbc, haus_c_mpc,
           haus_c_rbc_fit, haus_c_mpc_fit, panel_titles[1], (0, 986), y_ticks_ac, y_tick_labels_ac,
           0.5, -0.158)
draw_panel([402 / W, 1 - 857 / H, 450 / W, 333 / H], haus_g_rbc, haus_g_mpc,
           haus_g_rbc_fit, haus_g_mpc_fit, panel_titles[2], (0, 1025), y_ticks_g, y_tick_labels_g,
           0.5, -0.155)

handles = [Line2D([], [], color=RBC_COLOR, lw=1.6), Line2D([], [], color=MPC_COLOR, lw=1.6)]
leg = fig.legend(handles, series_labels, loc="upper center", bbox_to_anchor=(562.5 / W, 1 - 10 / H),
                 ncol=2, frameon=True, fancybox=False, edgecolor="black", fontsize=19,
                 handlelength=1.8, handletextpad=0.3, columnspacing=1.0, borderpad=0.3,
                 borderaxespad=0.0)
leg.get_frame().set_linewidth(1.0)

fig.savefig("out.png", dpi=100)
